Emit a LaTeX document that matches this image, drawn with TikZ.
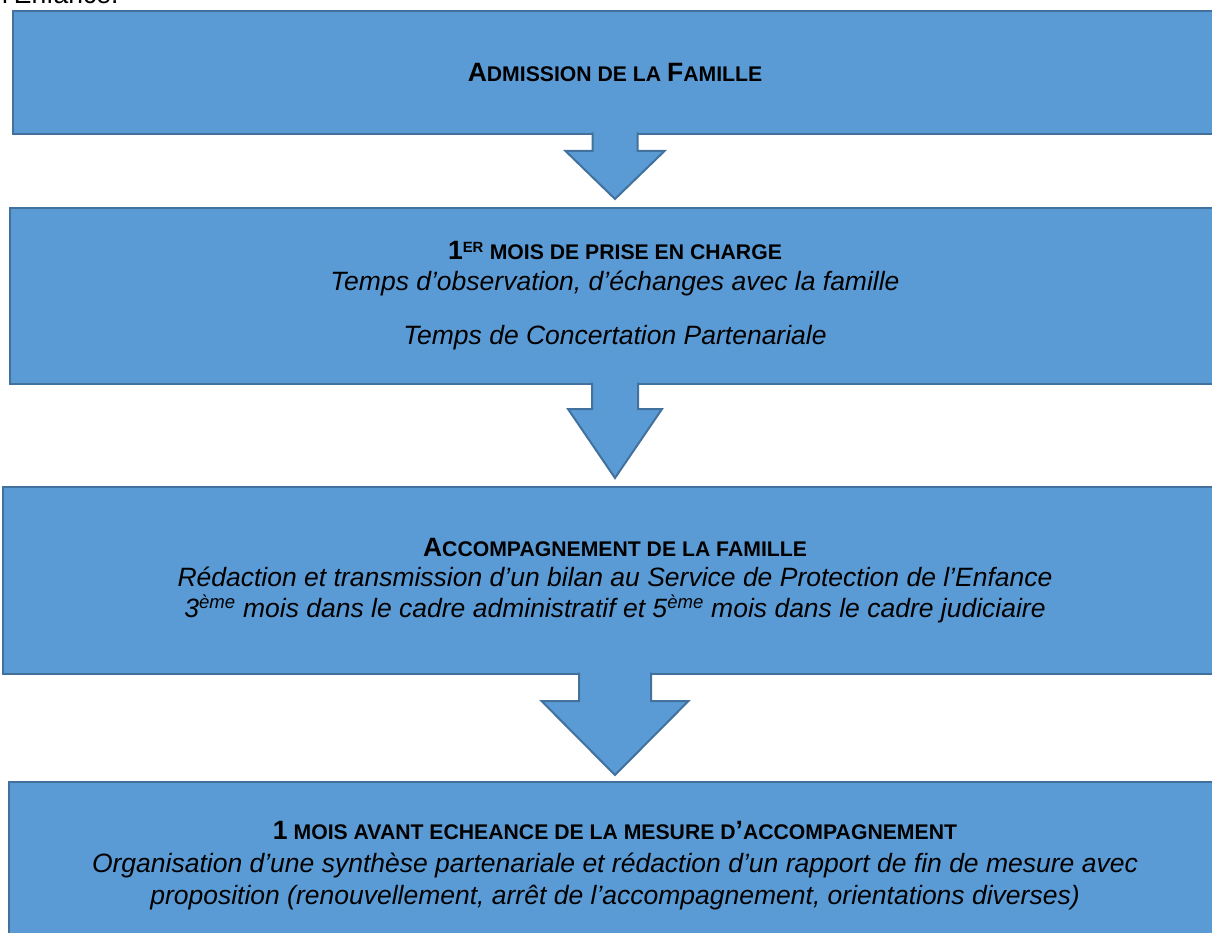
\documentclass[tikz,border=0pt]{standalone}
\usepackage{fontspec}
\setmainfont{Liberation Sans}

\definecolor{stagefill}{HTML}{5B9BD5}
\definecolor{stageline}{HTML}{41719C}

% small caps by hand (big initials, smaller capitals)
\newcommand\hbig[1]{{\fontsize{26.5}{30.5}\selectfont\bfseries #1}}
\newcommand\hsmall[1]{{\fontsize{21.2}{30.5}\selectfont\bfseries #1}}

\begin{document}
\begin{tikzpicture}[x=1pt,y=1pt,
	stage/.style={draw=stageline, fill=stagefill, line width=2pt, align=center,
		inner sep=0pt, font=\fontsize{26.5}{30.5}\selectfont},
	blockarrow/.style={draw=stageline, fill=stagefill, line width=2pt, line join=miter}]
	
	\useasboundingbox (0,0) rectangle (1212,-933);
	\clip (0,0) rectangle (1212,-933);
	
	% --- End of the previous paragraph (cut by the page)
	\node[anchor=base west, inner sep=0pt, font=\fontsize{26.5}{30.5}\selectfont] (prev) at (2,-3.5) {l’Enfance.};
	
	% --- Stages
	\node[stage, minimum width=1204pt, minimum height=123pt] (adm) at (615,-72.5)
	{\hbig{A}\hsmall{DMISSION DE LA }\hbig{F}\hsmall{AMILLE}};
	
	\node[stage, minimum width=1210pt, minimum height=176pt] (obs) at (615,-296)
	{\hbig{1}\hsmall{\textsuperscript{ER} MOIS DE PRISE EN CHARGE}\\
		\textit{Temps d’observation, d’échanges avec la famille}\\[24pt]
		\textit{Temps de Concertation Partenariale}};
	
	\node[stage, minimum width=1224pt, minimum height=187pt] (acc) at (615,-580.5)
	{\hbig{A}\hsmall{CCOMPAGNEMENT DE LA FAMILLE}\\
		\textit{Rédaction et transmission d’un bilan au Service de Protection de l’Enfance}\\
		\textit{3\textsuperscript{ème} mois dans le cadre administratif et 5\textsuperscript{ème} mois dans le cadre judiciaire}};
	
	\node[stage, minimum width=1212pt, minimum height=168pt] (fin) at (615,-866)
	{\hbig{1}\hsmall{ MOIS AVANT ECHEANCE DE LA MESURE D}\hbig{’}\hsmall{ACCOMPAGNEMENT}\\[2pt]
		\textit{Organisation d’une synthèse partenariale et rédaction d’un rapport de fin de mesure avec}\\[2pt]
		\textit{proposition (renouvellement, arrêt de l’accompagnement, orientations diverses)}};
	
	% --- Block arrows: shaft half width, head half width, head length, gap above next stage
	\foreach \src/\dst/\sw/\hw/\hl/\gap in {adm/obs/22.5/49.5/48/8, obs/acc/23/47/69/8, acc/fin/36/73.5/74/6}{
		\coordinate (top) at ([yshift=2.5pt]\src.south);
		\coordinate (tip) at ([yshift=\gap pt]\dst.north);
		% open at the top, so it merges into the stage above
		\filldraw[blockarrow] ([xshift=-\sw pt]top) -- ([xshift=-\sw pt,yshift=\hl pt]tip)
		-- ([xshift=-\hw pt,yshift=\hl pt]tip) -- (tip)
		-- ([xshift=\hw pt,yshift=\hl pt]tip) -- ([xshift=\sw pt,yshift=\hl pt]tip)
		-- ([xshift=\sw pt]top);
	}
	
\end{tikzpicture}
\end{document}
